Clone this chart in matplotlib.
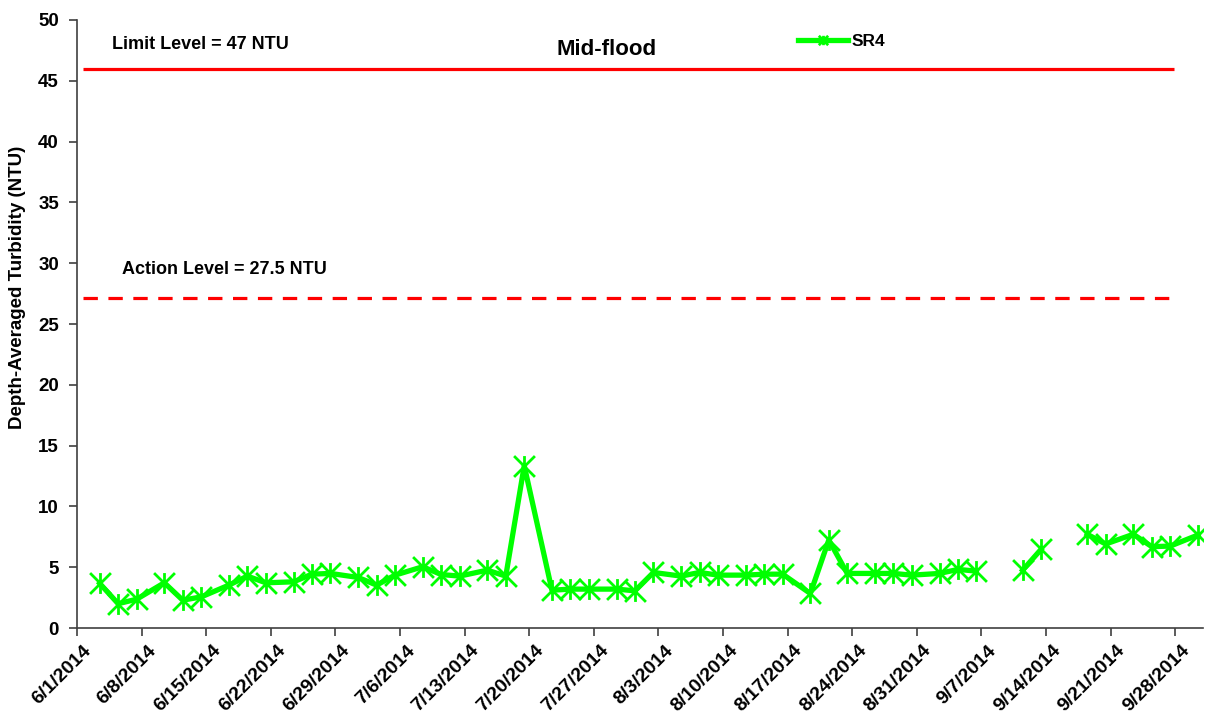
import numpy as np
import pandas as pd
import matplotlib
matplotlib.use('Agg')
import matplotlib.pyplot as plt
import matplotlib.dates as mdates
import matplotlib.transforms as mtransforms
from matplotlib.path import Path

plt.rcParams['font.family'] = ['Liberation Sans', 'DejaVu Sans']

# SR4 mid-flood sampling dates and depth-averaged turbidity (NTU)
dates = ['2014-06-03', '2014-06-05', '2014-06-07', '2014-06-10', '2014-06-12', '2014-06-14',
         '2014-06-17', '2014-06-19', '2014-06-21', '2014-06-24', '2014-06-26', '2014-06-28',
         '2014-07-01', '2014-07-03', '2014-07-05', '2014-07-08', '2014-07-10', '2014-07-12',
         '2014-07-15', '2014-07-17', '2014-07-19', '2014-07-22', '2014-07-24', '2014-07-26',
         '2014-07-29', '2014-07-31', '2014-08-02', '2014-08-05', '2014-08-07', '2014-08-09',
         '2014-08-12', '2014-08-14', '2014-08-16', '2014-08-19', '2014-08-21', '2014-08-23',
         '2014-08-26', '2014-08-28', '2014-08-30', '2014-09-02', '2014-09-04', '2014-09-06',
         '2014-09-09', '2014-09-11', '2014-09-13', '2014-09-16', '2014-09-18', '2014-09-20',
         '2014-09-23', '2014-09-25', '2014-09-27', '2014-09-30']
sr4 = [3.67, 2.0, 2.37, 3.72, 2.29, 2.56,
       3.53, 4.27, 3.72, 3.8, 4.43, 4.49,
       4.16, 3.53, 4.35, 5.04, 4.4, 4.27,
       4.76, 4.27, 13.35, 3.11, 3.2, 3.2,
       3.2, 3.06, 4.57, 4.27, 4.57, 4.35,
       4.35, 4.43, 4.43, 2.84, 7.24, 4.49,
       4.49, 4.49, 4.35, 4.49, 4.82, 4.68,
       np.nan, 4.75, 6.47, np.nan, 7.71, 6.91,
       7.71, 6.69, 6.74, 7.65]
sample_hour = 11

limit_level = 46.0
action_level = 27.1
level_span = ['2014-06-01 16:00', '2014-09-27 20:00']

x = pd.to_datetime(dates) + pd.Timedelta(hours=sample_hour)
span = pd.to_datetime(level_span)

# Excel-style star marker: X plus a vertical bar
star = Path([(0, -1), (0, 1), (-1, -1), (1, 1), (-1, 1), (1, -1)],
            [Path.MOVETO, Path.LINETO, Path.MOVETO, Path.LINETO, Path.MOVETO, Path.LINETO])

fig = plt.figure(figsize=(12.09, 7.14), dpi=100)
ax = fig.add_axes([0.0637, 0.1204, 0.9313, 0.8516])

ax.plot(span, [limit_level, limit_level], color='#ff0000', lw=2.3, solid_capstyle='butt')
ax.plot(span, [action_level, action_level], color='#ff0000', lw=2.3, dashes=(4.5, 3.3))
ax.plot(x, sr4, color='#00ff00', lw=3.8, marker=star, markersize=15,
        markeredgewidth=2, markerfacecolor='none', markeredgecolor='#00ff00', label='SR4')

ax.set_xlim(pd.Timestamp('2014-06-01'), pd.Timestamp('2014-10-01'))
ax.set_ylim(0, 50)
ax.set_yticks(np.arange(0, 51, 5))
ax.set_xticks(pd.date_range('2014-06-01', '2014-09-28', freq='7D'))
ax.xaxis.set_major_formatter(plt.FuncFormatter(
    lambda v, p: '{d.month}/{d.day}/{d.year}'.format(d=mdates.num2date(v))))

for s in ['top', 'right']:
    ax.spines[s].set_visible(False)
for s in ['left', 'bottom']:
    ax.spines[s].set_color('#404040')
    ax.spines[s].set_linewidth(1.2)

ax.tick_params(axis='both', direction='out', length=6, width=1.2, color='#404040')
ax.tick_params(axis='y', labelsize=13.5, pad=7)
ax.tick_params(axis='x', labelsize=14, pad=4)
offset = mtransforms.ScaledTranslation(6 / 100, 0, fig.dpi_scale_trans)
for lab in ax.get_yticklabels() + ax.get_xticklabels():
    lab.set_fontweight('bold')
for lab in ax.get_xticklabels():
    lab.set_rotation(45)
    lab.set_ha('right')
    lab.set_rotation_mode('anchor')
    lab.set_transform(lab.get_transform() + offset)

ax.set_ylabel('Depth-Averaged Turbidity (NTU)', fontsize=13.5, fontweight='bold')
ax.yaxis.set_label_coords(-0.045, 0.560)

ax.text(0.031, 0.959, 'Limit Level = 47 NTU', transform=ax.transAxes,
        fontsize=13, fontweight='bold', ha='left', va='center')
ax.text(0.470, 0.951, 'Mid-flood', transform=ax.transAxes,
        fontsize=16, fontweight='bold', ha='center', va='center')
ax.text(0.040, 0.589, 'Action Level = 27.5 NTU', transform=ax.transAxes,
        fontsize=13, fontweight='bold', ha='left', va='center')

ax.legend(loc='center left', bbox_to_anchor=(0.640, 0.964), frameon=False,
          handlelength=2.9, handletextpad=0.2, borderpad=0, borderaxespad=0,
          markerscale=0.45, prop={'weight': 'bold', 'size': 12.5})

fig.savefig('out.png', dpi=100)
